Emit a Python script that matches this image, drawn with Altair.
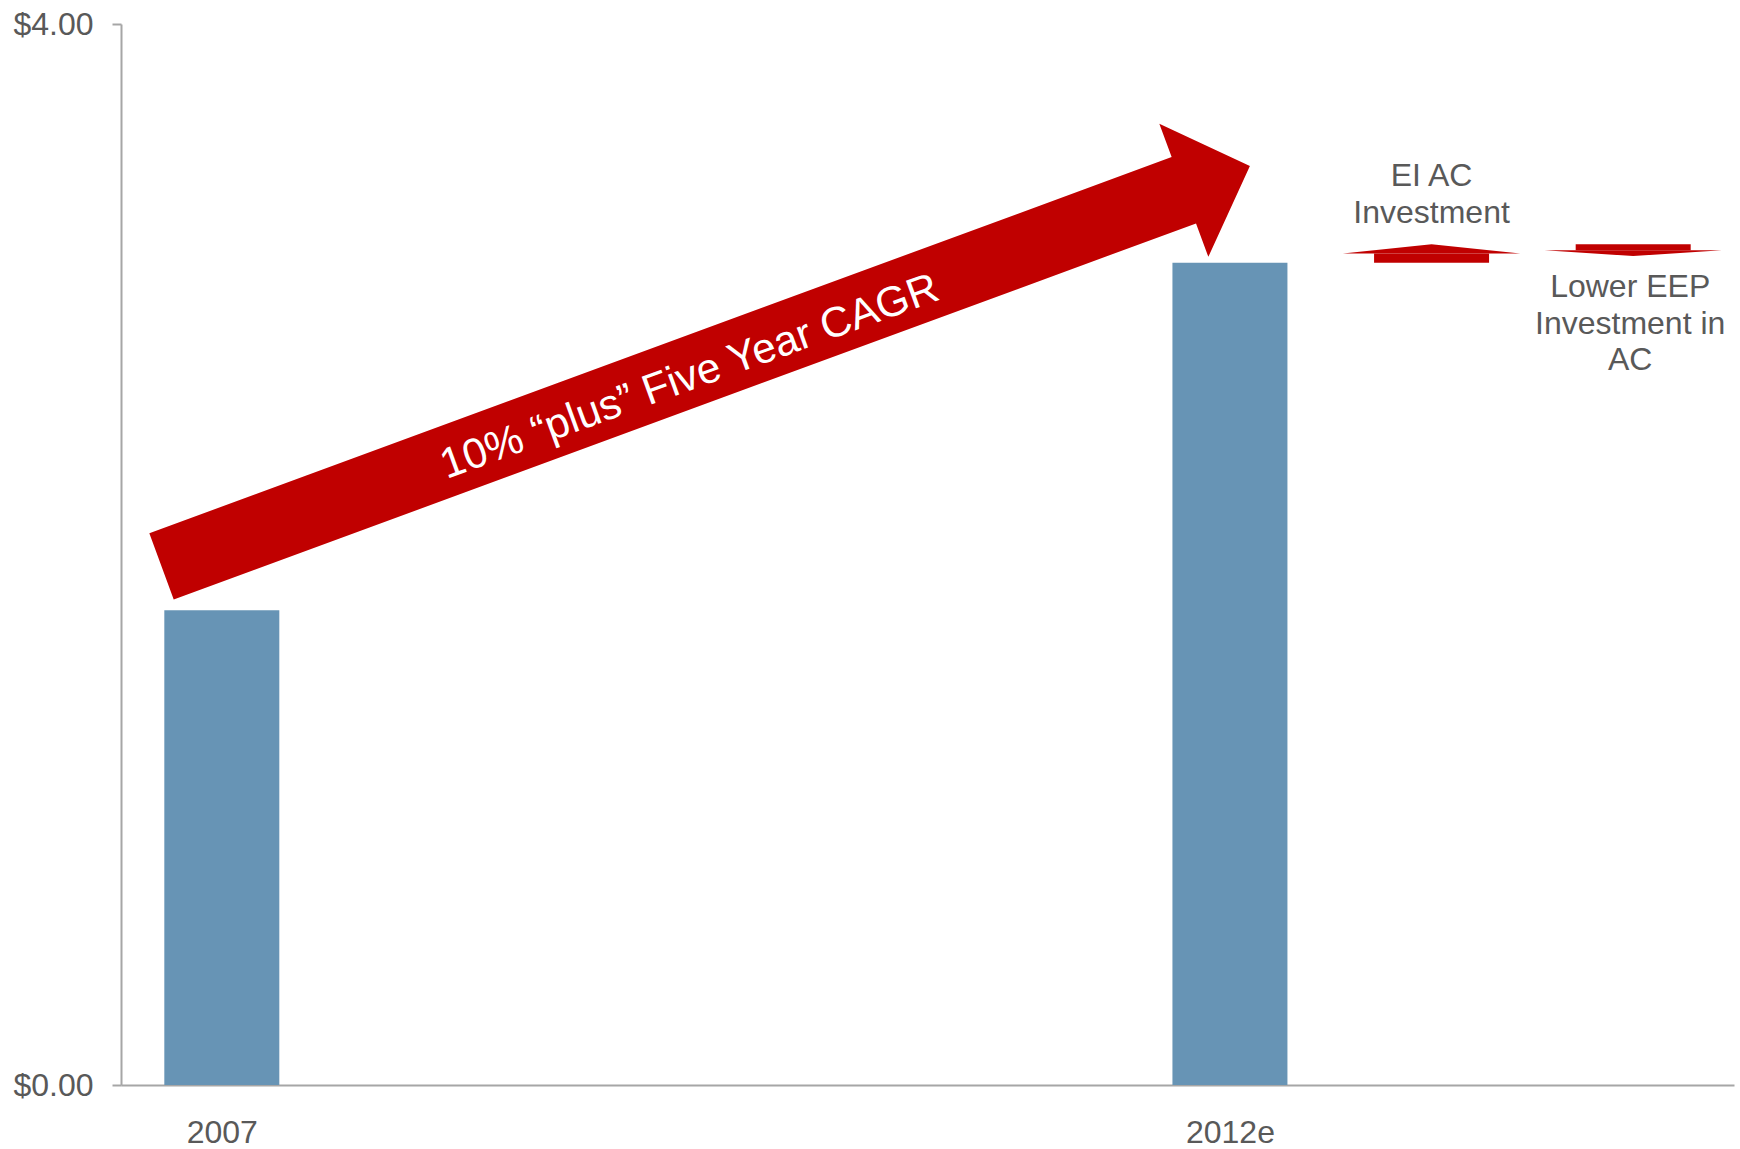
import altair as alt
import pandas as pd

# ---- data ----
years = ["2007", "2012e"]
year_pos = [0, 5]
year_values = [1.79, 3.10]

step_labels = ["EI AC\nInvestment", "Lower EEP\nInvestment in\nAC"]
step_pos = [6, 7]
step_changes = [0.07, -0.045]

slot_labels = ["2007", "", "", "", "", "2012e", "", ""]

cagr_text = "10% \u201cplus\u201d Five Year CAGR"
cagr_arrow_at = [2.40, 2.71]   # centre of the big arrow (data units)
cagr_text_at = [2.32, 2.67]    # centre of its caption (data units)

# ---- styles ----
BLUE = "#6794B5"
RED = "#C00000"
TEXT = "#595959"
AXIS = "#A6A6A6"
FONT = "Liberation Sans"

# ---- tables ----
bars = pd.DataFrame({"label": years, "pos": year_pos, "value": year_values})

level = year_values[-1]
body_rows, head_rows = [], []
for lab, p, ch in zip(step_labels, step_pos, step_changes):
    start, end = level, level + ch
    mid = (start + end) / 2
    body_rows.append({"label": lab, "pos": p, "start": start, "mid": mid, "end": end})
    for dx, yy in ((-0.44, mid), (0.0, end), (0.44, mid)):
        head_rows.append({"label": lab, "pos": p + dx, "tip": yy, "base": mid})
    level = end
bodies = pd.DataFrame(body_rows)
heads = pd.DataFrame(head_rows)

xscale = alt.Scale(domain=[-0.5, 7.5], nice=False, zero=False, padding=0)
yscale = alt.Scale(domain=[0, 4], nice=False, padding=0)

label_expr = "[" + ",".join("'%s'" % s for s in slot_labels) + "][datum.value]"

XAXIS = alt.Axis(values=year_pos, labelExpr=label_expr, ticks=False,
                 labelPadding=32, labelFontSize=32, labelColor=TEXT,
                 labelFont=FONT, domainColor=AXIS, domainWidth=2,
                 grid=False, title=None)
YAXIS = alt.Axis(values=[0, 4], format="$.2f", tickSize=9, tickWidth=2,
                 tickColor=AXIS, domainColor=AXIS, domainWidth=2,
                 labelPadding=19, labelFontSize=32, labelColor=TEXT,
                 labelFont=FONT, grid=False, title=None)


def X(field):
    return alt.X(field, scale=xscale, axis=XAXIS, title=None)


def Y(field):
    return alt.Y(field, scale=yscale, axis=YAXIS, title=None)


bar_layer = alt.Chart(bars).mark_bar(size=115, color=BLUE).encode(
    x=X("pos:Q"), y=Y("value:Q"),
)

body_layer = alt.Chart(bodies).mark_bar(size=115, color=RED).encode(
    x=X("pos:Q"), y=Y("start:Q"), y2="mid:Q",
)

head_layer = alt.Chart(heads).mark_area(color=RED, opacity=1).encode(
    x=X("pos:Q"), y=Y("tip:Q"), y2="base:Q", detail="label:N",
)

ei = bodies.iloc[[0]]
eep = bodies.iloc[[1]]
ei_text = alt.Chart(ei).mark_text(
    font=FONT, fontSize=32, color=TEXT, lineBreak="\n", lineHeight=37,
    align="center", baseline="middle", dy=-68,
).encode(x=X("pos:Q"), y=Y("end:Q"), text="label:N")
eep_text = alt.Chart(eep).mark_text(
    font=FONT, fontSize=32, color=TEXT, lineBreak="\n", lineHeight=36.7,
    align="center", baseline="middle", dy=31, dx=-3,
).encode(x=X("pos:Q"), y=Y("end:Q"), text="label:N")

arrow_df = pd.DataFrame({"x": [cagr_arrow_at[0]], "y": [cagr_arrow_at[1]]})
ARROW_PATH = ("M -1 -0.0609 L 0.8786 -0.0609 L 0.8786 -0.1224 L 1 0 "
              "L 0.8786 0.1224 L 0.8786 0.0609 L -1 0.0609 Z")
arrow_layer = alt.Chart(arrow_df).mark_point(
    shape=ARROW_PATH, filled=True, color=RED, opacity=1, strokeWidth=0,
    size=1159.7 ** 2, angle=339.8,
).encode(x=X("x:Q"), y=Y("y:Q"))

cagr_df = pd.DataFrame({"x": [cagr_text_at[0]], "y": [cagr_text_at[1]], "t": [cagr_text]})
cagr_layer = alt.Chart(cagr_df).mark_text(
    font=FONT, fontSize=42.5, color="white", angle=340,
    align="center", baseline="middle",
).encode(x=X("x:Q"), y=Y("y:Q"), text="t:N")

chart = alt.layer(
    bar_layer, body_layer, head_layer, arrow_layer, cagr_layer, ei_text, eep_text
).properties(
    width=1613, height=1061,
    padding={"left": 121, "top": 24, "right": 6, "bottom": 64},
    autosize=alt.AutoSizeParams(type="none"),
    background="white",
).configure_view(stroke=None)

chart.save("out.html", embed_options={"renderer": "svg", "actions": False})
